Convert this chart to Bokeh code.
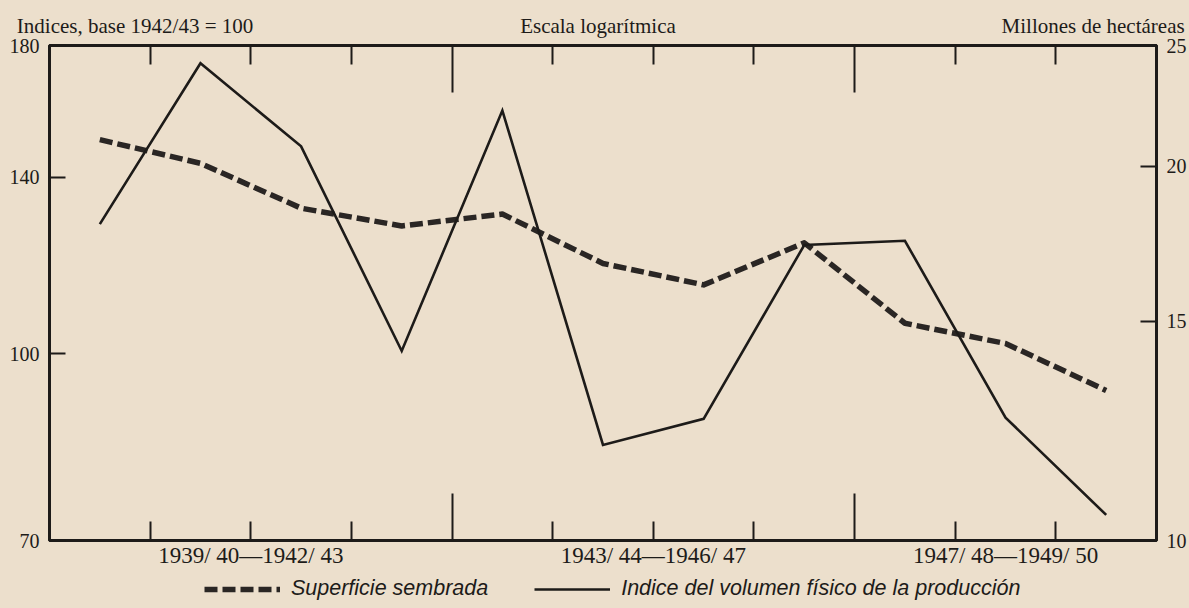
import numpy as np
from bokeh.plotting import figure
from bokeh.layouts import column
from bokeh.models import (LogAxis, LinearAxis, Range1d, FixedTicker, Legend,
                          LegendItem, LogScale, ColumnDataSource, PrintfTickFormatter,
                          CustomJSTickFormatter)
from bokeh.embed import file_html
from bokeh.resources import INLINE

# ---------------- data ----------------
years = ["1939/40", "1940/41", "1941/42", "1942/43", "1943/44", "1944/45",
         "1945/46", "1946/47", "1947/48", "1948/49", "1949/50"]
# Indice del volumen fisico de la produccion (base 1942/43 = 100), left log axis
indice_produccion = [128.0, 174.0, 148.5, 100.5, 159.0, 84.0, 88.3, 123.0, 124.0, 88.5, 73.5]
# Superficie sembrada (millones de hectareas), right log axis
superficie_sembrada = [21.0, 20.1, 18.5, 17.9, 18.3, 16.7, 16.05, 17.35, 14.95, 14.4, 13.2]

period_labels = ["1939/ 40—1942/ 43", "1943/ 44—1946/ 47", "1947/ 48—1949/ 50"]
period_first = [0, 4, 8]
period_last = [3, 7, 10]

left_ticks = [70, 100, 140, 180]
right_ticks = [10, 15, 20, 25]

header_texts = ["Indices, base 1942/43 = 100", "Escala logarítmica", "Millones de hectáreas"]
legend_labels = ["Superficie sembrada", "Indice del volumen físico de la producción"]

# ---------------- styling ----------------
INK = "#1d1b19"
DASH_INK = "#2a2624"
BG = "#ECDFCC"
SERIF = "Liberation Serif"
header_pos = [0.85, 5.45, 10.37]   # x positions (in plot units) of header text centres

n = len(years)
xs = [i + 0.5 for i in range(n)]
src = ColumnDataSource(dict(x=xs, idx=indice_produccion, sup=superficie_sembrada, year=years))

p = figure(width=1189, height=570, x_range=Range1d(0, n),
           y_range=Range1d(left_ticks[0], left_ticks[-1]), y_axis_type="log",
           output_backend="svg", toolbar_location=None,
           min_border_left=49, min_border_right=33, min_border_top=45, min_border_bottom=30)
p.background_fill_color = BG
p.border_fill_color = BG
p.outline_line_color = INK
p.outline_line_width = 3
p.grid.visible = False

p.extra_y_ranges = {"area": Range1d(right_ticks[0], right_ticks[-1])}
p.extra_y_scales = {"area": LogScale()}

sup_style = dict(line_width=5.5, line_dash="13 5", line_color=DASH_INK, line_join="round")
idx_style = dict(line_width=2.6, line_color=INK, line_join="miter")
p.line("x", "sup", source=src, y_range_name="area", **sup_style)
p.line("x", "idx", source=src, **idx_style)

# year boundary ticks
long_ticks = period_first[1:]
short_ticks = [b for b in range(1, n) if b not in long_ticks]

blank = CustomJSTickFormatter(code="return ''")


def tick_axis(ax):
    ax.ticker = FixedTicker(ticks=long_ticks, minor_ticks=short_ticks)
    ax.formatter = blank
    ax.axis_line_color = INK
    ax.axis_line_width = 3
    ax.major_tick_line_color = INK
    ax.major_tick_line_width = 2
    ax.minor_tick_line_color = INK
    ax.minor_tick_line_width = 2
    ax.major_tick_in = 47
    ax.major_tick_out = 0
    ax.minor_tick_in = 19
    ax.minor_tick_out = 0
    ax.major_label_text_font_size = "1px"
    ax.major_label_standoff = 0


tick_axis(p.xaxis[0])
top_ax = LinearAxis()
tick_axis(top_ax)
p.add_layout(top_ax, "above")


def label_axis(ticks, labels, size, standoff):
    ax = LinearAxis(ticker=FixedTicker(ticks=ticks, minor_ticks=[]),
                    major_label_overrides={float(c): t for c, t in zip(ticks, labels)})
    ax.axis_line_color = None
    ax.major_tick_line_color = None
    ax.minor_tick_line_color = None
    ax.major_tick_out = 0
    ax.major_tick_in = 0
    ax.major_label_standoff = standoff
    ax.major_label_text_font = SERIF
    ax.major_label_text_font_size = size
    ax.major_label_text_color = INK
    return ax


# period labels under the frame
centers = [(a + b + 1) / 2 for a, b in zip(period_first, period_last)]
p.add_layout(label_axis(centers, period_labels, "23px", 2), "below")
# header texts above the frame
p.add_layout(label_axis(header_pos, header_texts, "21px", 8), "above")


def y_axis(ax, ticks):
    ax.ticker = FixedTicker(ticks=ticks, minor_ticks=[])
    ax.formatter = PrintfTickFormatter(format="%d")
    ax.axis_line_color = INK
    ax.axis_line_width = 3
    ax.major_tick_line_color = INK
    ax.major_tick_line_width = 2
    ax.major_tick_in = 16
    ax.major_tick_out = 0
    ax.minor_tick_line_color = None
    ax.major_label_text_font = SERIF
    ax.major_label_text_font_size = "20px"
    ax.major_label_text_color = INK
    ax.major_label_standoff = 10


y_axis(p.yaxis[0], left_ticks)
r_ax = LogAxis(y_range_name="area")
y_axis(r_ax, right_ticks)
p.add_layout(r_ax, "right")

# ---------------- legend strip under the chart ----------------
leg = figure(width=1189, height=38, x_range=Range1d(0, 1), y_range=Range1d(0, 1),
             x_axis_type=None, y_axis_type=None, output_backend="svg",
             toolbar_location=None, min_border=0)
leg.background_fill_color = BG
leg.border_fill_color = BG
leg.outline_line_color = None
leg.grid.visible = False
# same series drawn in the strip's own (empty) view, only used as legend keys
k_sup = leg.line("x", "sup", source=src, **sup_style)
k_idx = leg.line("x", "idx", source=src, **idx_style)

legend = Legend(items=[LegendItem(label=legend_labels[0], renderers=[k_sup]),
                       LegendItem(label=legend_labels[1], renderers=[k_idx])],
                orientation="horizontal", location=(155, 7),
                glyph_width=76, glyph_height=20, label_standoff=11, spacing=46,
                padding=0, margin=0, background_fill_alpha=0, border_line_color=None,
                label_text_font="Liberation Sans", label_text_font_style="italic",
                label_text_font_size="21.5px", label_text_color=INK)
leg.add_layout(legend)

page = column(p, leg, spacing=0)
page.background = BG
open("out.html", "w").write(file_html(page, INLINE))
